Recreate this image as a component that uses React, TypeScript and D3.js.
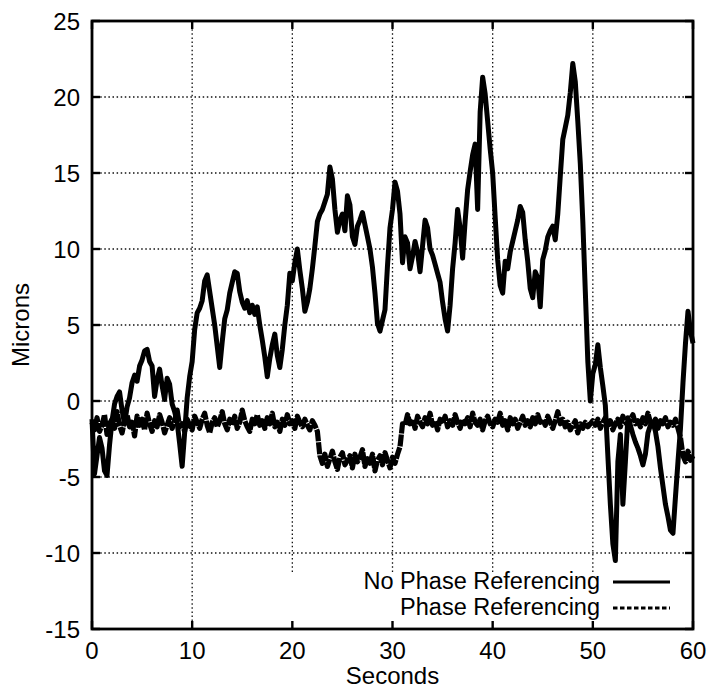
import React from "react";
import * as d3 from "d3";

// Sample interval of both traces, in seconds
const T_STEP = 0.25;

// Fringe position without phase referencing (microns), one row per 5 s
const noPhaseRef: number[] = [
  -1.2, -4.8, -3.6, -2.4, -3.1, -4.6, -4.9, -2.9, -1.3, -0.2, 0.3, 0.6, -0.6, -1.5, -0.4, 0.2, 1.2, 1.7, 1.3, 2.3,
  2.7, 3.3, 3.4, 2.6, 2.3, 0.3, 1.4, 2.1, 1.0, 0.1, 1.5, 1.1, -0.2, -0.7, -1.4, -2.8, -4.3, -2.1, 0.2, 1.6,
  2.6, 4.7, 5.8, 6.1, 6.6, 7.9, 8.3, 7.2, 6.1, 5.0, 3.6, 2.2, 3.9, 5.4, 6.0, 7.1, 7.8, 8.5, 8.4, 7.2,
  6.5, 6.1, 6.6, 5.8, 6.3, 5.7, 6.2, 5.0, 4.0, 2.9, 1.6, 2.8, 3.7, 4.4, 3.0, 2.2, 3.4, 5.0, 6.3, 8.4,
  7.9, 9.1, 10.0, 8.6, 7.4, 5.9, 6.5, 7.4, 8.7, 10.2, 11.8, 12.3, 12.6, 13.1, 13.6, 15.4, 14.6, 12.6, 11.1, 11.9,
  12.3, 11.2, 13.5, 12.9, 10.8, 10.3, 11.5, 11.9, 12.4, 11.6, 10.8, 10.0, 8.8, 7.1, 5.1, 4.6, 5.3, 6.0, 8.9, 11.4,
  12.6, 14.4, 13.8, 12.3, 9.1, 10.8, 10.4, 8.7, 9.5, 10.5, 9.8, 8.5, 10.2, 11.9, 11.4, 10.0, 9.6, 9.0, 8.4, 7.8,
  6.5, 5.4, 4.6, 6.3, 8.7, 10.4, 12.6, 11.4, 9.4, 11.8, 13.9, 15.1, 16.2, 16.9, 12.6, 19.0, 21.3, 20.2, 18.4, 16.6,
  15.0, 12.1, 9.3, 7.6, 7.1, 9.2, 8.7, 9.8, 10.5, 11.2, 11.9, 12.8, 12.4, 10.6, 9.2, 7.4, 6.8, 8.5, 8.1, 6.2,
  9.3, 9.9, 10.8, 11.2, 11.5, 10.6, 12.3, 14.8, 17.2, 18.0, 18.8, 20.3, 22.2, 21.0, 18.4, 15.6, 11.8, 7.2, 2.6, 0.0,
  1.8, 2.4, 3.7, 2.2, 1.0, -0.3, -3.6, -6.8, -9.4, -10.5, -4.0, -2.2, -6.8, -4.0, -1.1, -1.6, -2.2, -2.7, -3.1, -3.6,
  -4.2, -3.5, -2.1, -1.6, -1.4, -2.0, -3.0, -4.4, -5.6, -6.8, -7.6, -8.5, -8.7, -6.3, -4.0, -1.8, 1.2, 3.8, 5.9, 4.6,
  3.8,
];

// Fringe position with phase referencing (microns), one row per 5 s
const phaseRef: number[] = [
  -1.4, -1.9, -1.1, -2.0, -1.6, -0.9, -2.2, -1.5, -1.2, -1.8, -0.7, -1.6, -2.1, -1.3, -0.9, -1.7, -1.4, -2.3, -1.0, -1.6,
  -1.2, -1.9, -0.8, -1.5, -2.0, -1.3, -1.7, -0.9, -1.4, -2.1, -1.6, -1.1, -1.8, -1.3, -0.6, -1.7, -1.5, -2.0, -1.2, -1.6,
  -1.9, -1.0, -1.4, -1.8, -1.2, -0.8, -1.6, -2.1, -1.4, -1.1, -1.7, -1.3, -0.7, -1.5, -1.9, -1.2, -1.6, -1.0, -1.8, -1.4,
  -0.6, -1.3, -1.7, -2.0, -1.2, -1.5, -0.9, -1.6, -1.3, -1.8, -1.1, -1.5, -0.8, -1.7, -1.4, -2.0, -1.2, -1.6, -0.9, -1.5,
  -1.3, -1.8, -1.0, -1.4, -1.7, -1.2, -1.6, -1.9, -1.3, -1.6, -2.0, -3.6, -4.1, -3.5, -4.3, -3.8, -3.3, -4.0, -4.5, -3.7,
  -3.4, -4.2, -3.9, -3.6, -4.4, -3.5, -4.0, -3.7, -3.2, -4.3, -3.8, -4.1, -3.5, -4.6, -3.9, -3.6, -4.2, -3.4, -3.9, -4.4,
  -3.7, -4.1, -3.5, -3.0, -1.5, -1.6, -0.9, -1.5, -1.2, -1.8, -1.0, -1.4, -1.7, -1.1, -1.5, -0.8, -1.6, -1.3, -1.9, -1.2,
  -1.5, -1.0, -1.7, -1.3, -1.6, -0.9, -1.4, -1.8, -1.2, -1.5, -1.1, -1.7, -0.8, -1.4, -1.6, -1.2, -1.9, -1.3, -1.0, -1.5,
  -1.7, -1.2, -1.4, -0.8, -1.6, -1.3, -1.9, -1.1, -1.5, -1.2, -1.8, -1.4, -1.0, -1.6, -1.3, -1.7, -1.1, -1.5, -0.9, -1.4,
  -1.2, -1.6, -1.0, -1.4, -1.8, -1.3, -0.7, -1.5, -1.2, -1.7, -1.4, -1.9, -1.6, -1.3, -2.1, -1.5, -1.8, -1.4, -1.7, -1.5,
  -1.3, -1.6, -1.2, -1.8, -1.4, -1.1, -1.6, -1.3, -1.9, -1.5, -1.2, -1.7, -1.0, -1.4, -1.6, -1.2, -0.9, -1.5, -1.3, -1.7,
  -1.1, -1.5, -0.8, -1.4, -1.6, -1.2, -1.8, -1.3, -1.5, -1.1, -1.7, -1.4, -1.6, -1.2, -1.8, -2.4, -3.6, -4.0, -3.3, -3.9,
  -3.6,
];

const xTicks = [0, 10, 20, 30, 40, 50, 60];
const yTicks = [-15, -10, -5, 0, 5, 10, 15, 20, 25];
const seriesLabels = ["No Phase Referencing", "Phase Referencing"];

const W = 713;
const H = 690;
const left = 92;
const right = 693;
const top = 21;
const bottom = 629;
const FONT = "'Liberation Sans', Arial, Helvetica, sans-serif";
const FS = 24;

// Region kept clear of grid lines behind the key
const keyBox = { x0: 288, y0: 572 };

export default function App() {
  const x = d3.scaleLinear().domain([0, 60]).range([left, right]);
  const y = d3.scaleLinear().domain([-15, 25]).range([bottom, top]);

  const line = d3
    .line<number>()
    .x((_, i) => x(i * T_STEP))
    .y((v) => y(v));

  const tickLen = 8;

  return (
    <svg
      width={W}
      height={H}
      style={{ position: "absolute", left: 0, top: 0, background: "#fff" }}
      fontFamily={FONT}
    >
      <rect x={0} y={0} width={W} height={H} fill="#fff" />

      {/* dotted grid */}
      <g stroke="#111" strokeWidth={1.3} strokeDasharray="1.5,2.6">
        {yTicks
          .filter((t) => t !== -15 && t !== 25)
          .map((t) => (
            <line key={"gy" + t} x1={left} x2={right} y1={y(t)} y2={y(t)} />
          ))}
        {xTicks
          .filter((t) => t !== 0 && t !== 60)
          .map((t) => {
            const px = x(t);
            const yEnd = px >= keyBox.x0 ? keyBox.y0 : bottom;
            return <line key={"gx" + t} x1={px} x2={px} y1={top} y2={yEnd} />;
          })}
      </g>

      {/* traces */}
      <path
        d={line(phaseRef) ?? ""}
        fill="none"
        stroke="#000"
        strokeWidth={5.2}
        strokeDasharray="12,1"
        strokeLinejoin="round"
      />
      <path
        d={line(noPhaseRef) ?? ""}
        fill="none"
        stroke="#000"
        strokeWidth={5}
        strokeLinejoin="round"
      />

      {/* frame */}
      <rect
        x={left}
        y={top}
        width={right - left}
        height={bottom - top}
        fill="none"
        stroke="#000"
        strokeWidth={2.8}
      />

      {/* ticks, mirrored on all sides */}
      <g stroke="#000" strokeWidth={2.4}>
        {yTicks.map((t) => (
          <g key={"ty" + t}>
            <line x1={left} x2={left + tickLen} y1={y(t)} y2={y(t)} />
            <line x1={right} x2={right - tickLen} y1={y(t)} y2={y(t)} />
          </g>
        ))}
        {xTicks.map((t) => (
          <g key={"tx" + t}>
            <line x1={x(t)} x2={x(t)} y1={bottom} y2={bottom - tickLen} />
            <line x1={x(t)} x2={x(t)} y1={top} y2={top + tickLen} />
          </g>
        ))}
      </g>

      {/* tick labels */}
      <g fontSize={FS} fill="#000">
        {yTicks.map((t) => (
          <text key={"ly" + t} x={80} y={y(t) + 8.5} textAnchor="end">
            {t}
          </text>
        ))}
        {xTicks.map((t) => (
          <text key={"lx" + t} x={x(t)} y={659} textAnchor="middle">
            {t}
          </text>
        ))}
      </g>

      {/* axis titles */}
      <text x={(left + right) / 2} y={684} textAnchor="middle" fontSize={FS}>
        Seconds
      </text>
      <text
        transform={`translate(29,${(top + bottom) / 2}) rotate(-90)`}
        textAnchor="middle"
        fontSize={FS}
      >
        Microns
      </text>

      {/* key */}
      <g fontSize={23.5}>
        <text x={600} y={589} textAnchor="end">
          {seriesLabels[0]}
        </text>
        <line x1={613} x2={670} y1={582} y2={582} stroke="#000" strokeWidth={3} />
        <text x={600} y={615} textAnchor="end">
          {seriesLabels[1]}
        </text>
        <line
          x1={613}
          x2={670}
          y1={608}
          y2={608}
          stroke="#000"
          strokeWidth={3}
          strokeDasharray="4.5,2.5"
        />
      </g>
    </svg>
  );
}
